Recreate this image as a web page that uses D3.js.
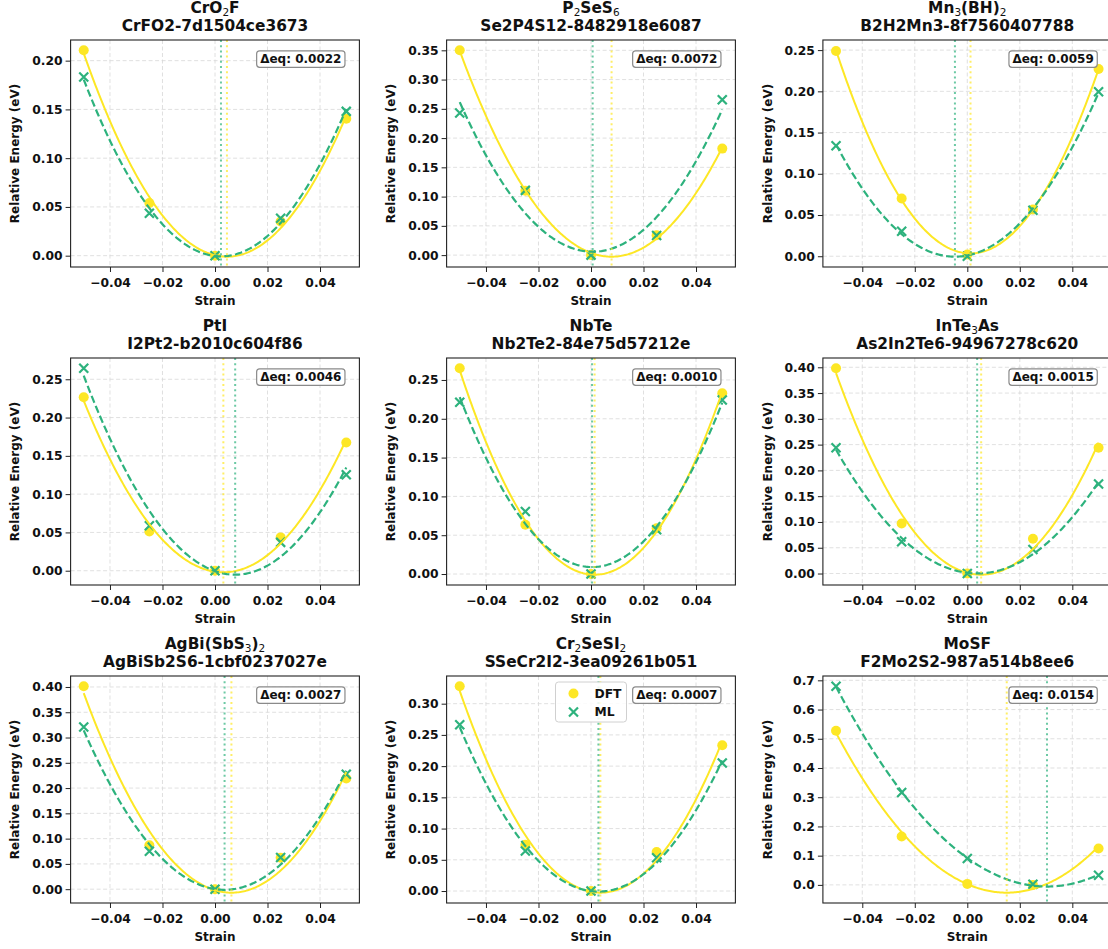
<!DOCTYPE html>
<html>
<head>
<meta charset="utf-8">
<script src="https://cdn.jsdelivr.net/npm/d3@7"></script>
<style>
  body { margin: 0; background: #fff; }
  svg text { font-family: "DejaVu Sans", sans-serif; font-weight: bold; fill: #111; }
</style>
</head>
<body>
<div id="chart"></div>
<script>
//strain values used for every material
var strains = [-0.05, -0.025, 0, 0.025, 0.05];

//formula (with _n for subscripts) and material id of each panel
var formulas = ["CrO_2F", "P_2SeS_6", "Mn_3(BH)_2", "PtI", "NbTe", "InTe_3As", "AgBi(SbS_3)_2", "Cr_2SeSI_2", "MoSF"];
var materialIds = ["CrFO2-7d1504ce3673", "Se2P4S12-8482918e6087", "B2H2Mn3-8f7560407788",
  "I2Pt2-b2010c604f86", "Nb2Te2-84e75d57212e", "As2In2Te6-94967278c620",
  "AgBiSb2S6-1cbf0237027e", "SSeCr2I2-3ea09261b051", "F2Mo2S2-987a514b8ee6"];

//relative energies (eV)
var dftEnergies = [
  [0.2106, 0.054, 0.0, 0.035, 0.1404],
  [0.350, 0.110, 0.0, 0.034, 0.182],
  [0.249, 0.070, 0.002, 0.0566, 0.227],
  [0.2265, 0.0513, 0.0, 0.0435, 0.1674],
  [0.265, 0.0635, 0.0, 0.059, 0.2328],
  [0.398, 0.097, 0.0, 0.0673, 0.244],
  [0.4013, 0.087, 0.0, 0.062, 0.2188],
  [0.3278, 0.0742, 0.0, 0.0625, 0.2333],
  [0.5276, 0.1656, 0.0034, 0.0, 0.1245]
];
var mlEnergies = [
  [0.1832, 0.0435, 0.0, 0.0384, 0.148],
  [0.2428, 0.1106, 0.0, 0.0336, 0.2656],
  [0.134, 0.0303, 0.0, 0.0558, 0.1994],
  [0.2643, 0.0587, 0.0, 0.037, 0.1252],
  [0.2213, 0.0806, 0.0, 0.057, 0.2243],
  [0.244, 0.0615, 0.0, 0.0466, 0.1735],
  [0.321, 0.0751, 0.0, 0.0626, 0.2273],
  [0.2664, 0.064, 0.0, 0.0534, 0.205],
  [0.6795, 0.3163, 0.0902, 0.002, 0.0331]
];
var deltaLabels = ["0.0022", "0.0072", "0.0059", "0.0046", "0.0010", "0.0015", "0.0027", "0.0007", "0.0154"];

//tick values
var xTicks = [-0.04, -0.02, 0, 0.02, 0.04];
var yTicks = [
  [0, 0.05, 0.10, 0.15, 0.20],
  [0, 0.05, 0.10, 0.15, 0.20, 0.25, 0.30, 0.35],
  [0, 0.05, 0.10, 0.15, 0.20, 0.25],
  [0, 0.05, 0.10, 0.15, 0.20, 0.25],
  [0, 0.05, 0.10, 0.15, 0.20, 0.25],
  [0, 0.05, 0.10, 0.15, 0.20, 0.25, 0.30, 0.35, 0.40],
  [0, 0.05, 0.10, 0.15, 0.20, 0.25, 0.30, 0.35, 0.40],
  [0, 0.05, 0.10, 0.15, 0.20, 0.25, 0.30],
  [0, 0.1, 0.2, 0.3, 0.4, 0.5, 0.6, 0.7]
];
var yTickDigits = [2, 2, 2, 2, 2, 2, 2, 2, 1];
var legendPanel = 7;

//colours
var dftColor = "#fde725",
  mlColor = "#2db27d";

//layout of the 3x3 grid
var width = 1108,
  height = 949;
var colLeft = [70.6, 446.6, 822.9],
  rowTop = [40, 358, 676];
var plotW = 288.8,
  plotH = 227;

var svg = d3
  .select("#chart")
  .append("svg")
  .attr("width", width)
  .attr("height", height);

//least squares fit of y = a x^2 + b x + c
function quadFit(xs, ys) {
  var s0 = xs.length, s1 = 0, s2 = 0, s3 = 0, s4 = 0, t0 = 0, t1 = 0, t2 = 0;
  xs.forEach(function(x, i) {
    var y = ys[i];
    s1 += x; s2 += x * x; s3 += x * x * x; s4 += x * x * x * x;
    t0 += y; t1 += x * y; t2 += x * x * y;
  });
  function det(m) {
    return m[0][0] * (m[1][1] * m[2][2] - m[1][2] * m[2][1]) -
      m[0][1] * (m[1][0] * m[2][2] - m[1][2] * m[2][0]) +
      m[0][2] * (m[1][0] * m[2][1] - m[1][1] * m[2][0]);
  }
  var M = [[s4, s3, s2], [s3, s2, s1], [s2, s1, s0]];
  var R = [t2, t1, t0];
  var D = det(M);
  var coef = [0, 1, 2].map(function(k) {
    var Mk = M.map(function(row, r) {
      return row.map(function(v, c) { return c === k ? R[r] : v; });
    });
    return det(Mk) / D;
  });
  return { a: coef[0], b: coef[1], c: coef[2] };
}

function fitCurve(fit) {
  return d3.range(0, 201).map(function(k) {
    var x = -0.05 + k * 0.0005;
    return [x, fit.a * x * x + fit.b * x + fit.c];
  });
}

//x marker path centred on 0,0
function crossPath(s) {
  return "M" + -s + "," + -s + "L" + s + "," + s + "M" + -s + "," + s + "L" + s + "," + -s;
}

//title line with subscripts written as _n
function addFormula(textSel, formula) {
  var parts = formula.split(/_(\d+)/);
  var shifted = false;
  parts.forEach(function(p, i) {
    if (p === "") return;
    var t = textSel.append("tspan").text(p);
    if (i % 2 === 1) {
      t.attr("font-size", "10.5px").attr("font-weight", "normal").attr("dy", 2.5);
      shifted = true;
    } else if (shifted) {
      t.attr("dy", -2.5);
      shifted = false;
    }
  });
}

function drawPanel(i) {
  var left = colLeft[i % 3],
    top = rowTop[Math.floor(i / 3)];
  var g = svg.append("g").attr("transform", "translate(" + left + "," + top + ")");

  var dftFit = quadFit(strains, dftEnergies[i]);
  var mlFit = quadFit(strains, mlEnergies[i]);
  var dftLine = fitCurve(dftFit);
  var mlLine = fitCurve(mlFit);
  var dftEq = -dftFit.b / (2 * dftFit.a);
  var mlEq = -mlFit.b / (2 * mlFit.a);

  //y limits like matplotlib autoscale (5% margins)
  var allY = dftEnergies[i].concat(mlEnergies[i])
    .concat(dftLine.map(function(d) { return d[1]; }))
    .concat(mlLine.map(function(d) { return d[1]; }));
  var yMin = d3.min(allY), yMax = d3.max(allY);
  var pad = (yMax - yMin) * 0.05;

  var x = d3.scaleLinear().domain([-0.055, 0.055]).range([0, plotW]);
  var y = d3.scaleLinear().domain([yMin - pad, yMax + pad]).range([plotH, 0]);

  //grid
  g.append("g")
    .selectAll("line")
    .data(xTicks)
    .enter()
    .append("line")
    .attr("x1", function(d) { return x(d); })
    .attr("x2", function(d) { return x(d); })
    .attr("y1", 0)
    .attr("y2", plotH)
    .attr("stroke", "#d8d8d8")
    .attr("stroke-width", 0.8)
    .attr("stroke-dasharray", "4,2.5");
  g.append("g")
    .selectAll("line")
    .data(yTicks[i])
    .enter()
    .append("line")
    .attr("x1", 0)
    .attr("x2", plotW)
    .attr("y1", function(d) { return y(d); })
    .attr("y2", function(d) { return y(d); })
    .attr("stroke", "#d8d8d8")
    .attr("stroke-width", 0.8)
    .attr("stroke-dasharray", "4,2.5");

  //scatter points
  g.append("g")
    .selectAll("circle")
    .data(dftEnergies[i])
    .enter()
    .append("circle")
    .attr("cx", function(d, k) { return x(strains[k]); })
    .attr("cy", function(d) { return y(d); })
    .attr("r", 5)
    .attr("fill", dftColor);
  g.append("g")
    .selectAll("path")
    .data(mlEnergies[i])
    .enter()
    .append("path")
    .attr("transform", function(d, k) { return "translate(" + x(strains[k]) + "," + y(d) + ")"; })
    .attr("d", crossPath(4.5))
    .attr("stroke", mlColor)
    .attr("stroke-width", 2.2)
    .attr("fill", "none");

  //fitted curves
  var line = d3.line()
    .x(function(d) { return x(d[0]); })
    .y(function(d) { return y(d[1]); });
  g.append("path")
    .attr("d", line(dftLine))
    .attr("fill", "none")
    .attr("stroke", dftColor)
    .attr("stroke-width", 2);
  g.append("path")
    .attr("d", line(mlLine))
    .attr("fill", "none")
    .attr("stroke", mlColor)
    .attr("stroke-width", 2.2)
    .attr("stroke-dasharray", "7.5,3.3");

  //equilibrium strain lines
  [[dftEq, dftColor], [mlEq, mlColor]].forEach(function(v) {
    g.append("line")
      .attr("x1", x(v[0]))
      .attr("x2", x(v[0]))
      .attr("y1", 0)
      .attr("y2", plotH)
      .attr("stroke", v[1])
      .attr("stroke-opacity", 0.7)
      .attr("stroke-width", 2)
      .attr("stroke-dasharray", "2,3.2");
  });

  //axes
  var xAxis = g.append("g")
    .attr("transform", "translate(0," + plotH + ")")
    .call(d3.axisBottom(x).tickValues(xTicks).tickSize(5).tickPadding(6.5)
      .tickFormat(function(d) { return d3.format(".2f")(d).replace("-", "\u2212"); }));
  var yAxis = g.append("g")
    .call(d3.axisLeft(y).tickValues(yTicks[i]).tickSize(5).tickPadding(3)
      .tickFormat(d3.format("." + yTickDigits[i] + "f")));
  [xAxis, yAxis].forEach(function(a) {
    a.select(".domain").remove();
    a.selectAll("line").attr("stroke", "#222").attr("stroke-width", 1);
    a.selectAll("text").attr("font-size", "12.3px").attr("fill", "#111")
      .attr("font-family", "DejaVu Sans").attr("font-weight", "bold");
  });

  //frame
  g.append("rect")
    .attr("width", plotW)
    .attr("height", plotH)
    .attr("fill", "none")
    .attr("stroke", "#222")
    .attr("stroke-width", 1.1);

  //axis labels
  g.append("text")
    .attr("x", plotW / 2)
    .attr("y", plotH + 38)
    .attr("text-anchor", "middle")
    .attr("font-size", "12px")
    .text("Strain");
  g.append("text")
    .attr("transform", "translate(-55.6," + plotH / 2 + ") rotate(-90)")
    .attr("text-anchor", "middle")
    .attr("dy", "0.36em")
    .attr("font-size", "12px")
    .text("Relative Energy (eV)");

  //two line title
  var t1 = g.append("text")
    .attr("x", plotW / 2)
    .attr("y", -27)
    .attr("text-anchor", "middle")
    .attr("font-size", "15.4px");
  addFormula(t1, formulas[i]);
  g.append("text")
    .attr("x", plotW / 2)
    .attr("y", -9.5)
    .attr("text-anchor", "middle")
    .attr("font-size", "15.4px")
    .text(materialIds[i]);

  //delta eq box
  var boxG = g.append("g");
  var boxRect = boxG.append("rect");
  var boxText = boxG.append("text")
    .attr("font-size", "12px")
    .text("\u0394eq: " + deltaLabels[i]);
  var tw = boxText.node().getComputedTextLength();
  var bx = plotW * 0.95 - tw - 7,
    by = plotH * 0.05 - 0.5;
  boxRect
    .attr("x", bx)
    .attr("y", by)
    .attr("width", tw + 7)
    .attr("height", 16.5)
    .attr("rx", 3)
    .attr("fill", "#fff")
    .attr("fill-opacity", 0.85)
    .attr("stroke", "#8a8a8a")
    .attr("stroke-width", 1.2);
  boxText.attr("x", bx + 3.5).attr("y", by + 12.6);

  if (i === legendPanel) drawLegend(g);
}

function drawLegend(g) {
  var lw = 71, lh = 40;
  var lx = plotW / 2 - lw / 2, ly = 6;
  var lg = g.append("g").attr("transform", "translate(" + lx + "," + ly + ")");
  lg.append("rect")
    .attr("width", lw)
    .attr("height", lh)
    .attr("rx", 3)
    .attr("fill", "#fff")
    .attr("fill-opacity", 0.85)
    .attr("stroke", "#d0d0d0")
    .attr("stroke-width", 1);
  lg.append("circle")
    .attr("cx", 18)
    .attr("cy", 11.5)
    .attr("r", 5)
    .attr("fill", dftColor);
  lg.append("path")
    .attr("transform", "translate(18,30)")
    .attr("d", crossPath(4.5))
    .attr("stroke", mlColor)
    .attr("stroke-width", 2.2);
  lg.append("text").attr("x", 39).attr("y", 11.5).attr("dy", "0.36em").attr("font-size", "12.3px").text("DFT");
  lg.append("text").attr("x", 39).attr("y", 30).attr("dy", "0.36em").attr("font-size", "12.3px").text("ML");
}

d3.range(9).forEach(drawPanel);
</script>
</body>
</html>
